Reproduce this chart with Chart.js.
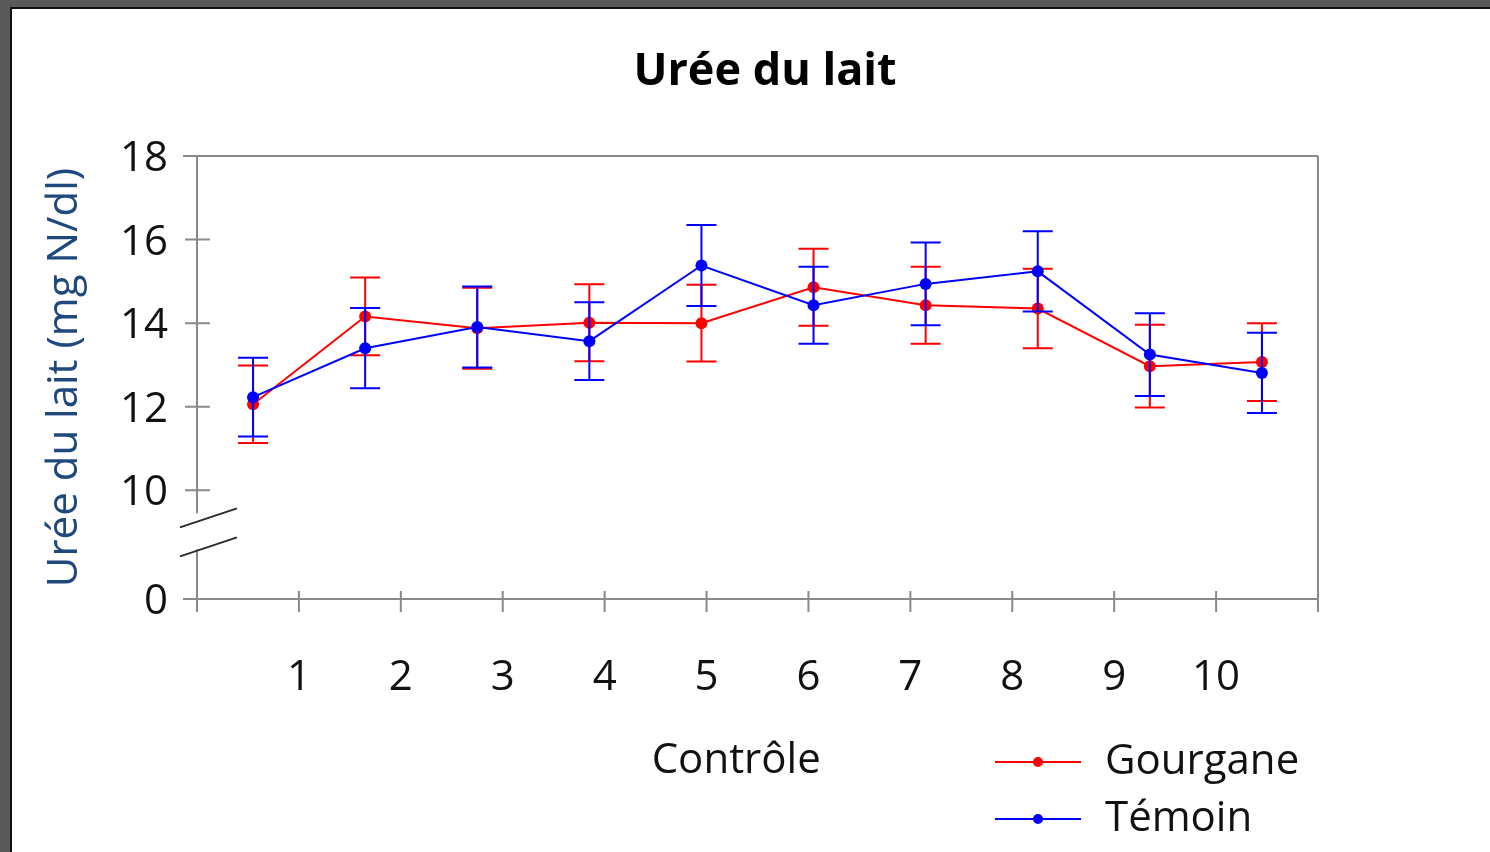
<!DOCTYPE html>
<html lang="fr">
<head>
<meta charset="utf-8">
<title>Urée du lait</title>
<script src="https://cdn.jsdelivr.net/npm/chart.js@4.4.1/dist/chart.umd.min.js"></script>
<style>
  html, body { margin: 0; padding: 0; width: 1490px; height: 852px; overflow: hidden; background: #595959; }
  .frame { position: absolute; left: 10px; top: 7px; right: 0; bottom: 0; background: #fff; border-left: 2px solid #111; border-top: 2px solid #111; }
  #chart { position: absolute; left: 0; top: 0; }
</style>
</head>
<body>
<div class="frame"></div>
<canvas id="chart" width="1490" height="852"></canvas>
<script>
// Contrôle 1..10
const categories = ['1', '2', '3', '4', '5', '6', '7', '8', '9', '10'];

// moyennes et écarts (mg N/dl)
const gourgane = [12.06, 14.16, 13.88, 14.01, 14.00, 14.86, 14.43, 14.35, 12.97, 13.07];
const gourganeErr = [0.93, 0.93, 0.97, 0.92, 0.92, 0.92, 0.92, 0.95, 0.99, 0.93];
const temoin = [12.23, 13.40, 13.91, 13.57, 15.38, 14.43, 14.94, 15.24, 13.25, 12.81];
const temoinErr = [0.94, 0.96, 0.97, 0.93, 0.97, 0.92, 0.99, 0.96, 0.99, 0.96];

// axe Y coupé : "0" est placé juste sous la coupure
const yTickValues = [7.4, 10, 12, 14, 16, 18];
const yTickLabels = ['0', '10', '12', '14', '16', '18'];
// les étiquettes X sont décalées par rapport aux points (comme dans l'original)
const xTickLabels = ['', '1', '2', '3', '4', '5', '6', '7', '8', '9', '10', ''];

const FONT = "'Open Sans', 'Noto Sans', sans-serif";
const AXIS_GREY = '#8a8a8a';

// barres d'erreur, dessinées juste après chaque série
const errorBars = {
  id: 'errorBars',
  afterDatasetDraw(chart, args) {
    const ds = chart.data.datasets[args.index];
    if (!ds.errors) return;
    const ctx = chart.ctx;
    const y = chart.scales.y;
    ctx.save();
    ctx.strokeStyle = ds.borderColor;
    ctx.lineWidth = 2;
    args.meta.data.forEach((pt, i) => {
      const v = ds.data[i];
      const e = ds.errors[i];
      const yTop = y.getPixelForValue(v + e);
      const yBot = y.getPixelForValue(v - e);
      ctx.beginPath();
      ctx.moveTo(pt.x, yTop);
      ctx.lineTo(pt.x, yBot);
      ctx.moveTo(pt.x - 15, yTop);
      ctx.lineTo(pt.x + 15, yTop);
      ctx.moveTo(pt.x - 15, yBot);
      ctx.lineTo(pt.x + 15, yBot);
      ctx.stroke();
    });
    ctx.restore();
  }
};

// cadre, graduations croisées et coupure de l'axe
const axisFrame = {
  id: 'axisFrame',
  beforeDatasetsDraw(chart) {
    const { ctx, chartArea: a, scales } = chart;
    const y10 = scales.y.getPixelForValue(10);
    ctx.save();
    ctx.strokeStyle = AXIS_GREY;
    ctx.lineWidth = 2;
    ctx.beginPath();
    ctx.moveTo(a.left - 14, a.top); ctx.lineTo(a.right, a.top);
    ctx.moveTo(a.right, a.top); ctx.lineTo(a.right, a.bottom + 13);
    ctx.moveTo(a.left - 14, a.bottom); ctx.lineTo(a.right, a.bottom);
    ctx.moveTo(a.left, a.top); ctx.lineTo(a.left, y10 + 23);
    ctx.moveTo(a.left, y10 + 59); ctx.lineTo(a.left, a.bottom + 13);
    yTickValues.slice(1, -1).forEach(v => {
      const py = scales.y.getPixelForValue(v);
      ctx.moveTo(a.left - 12, py); ctx.lineTo(a.left + 13, py);
    });
    for (let t = 1; t <= 10; t++) {
      const px = scales.x2.getPixelForValue(t);
      ctx.moveTo(px, a.bottom - 8); ctx.lineTo(px, a.bottom + 13);
    }
    ctx.stroke();
    ctx.restore();
  },
  afterDraw(chart) {
    const { ctx, chartArea: a, scales } = chart;
    const y10 = scales.y.getPixelForValue(10);
    ctx.save();
    ctx.strokeStyle = '#2a2a2a';
    ctx.lineWidth = 2;
    ctx.beginPath();
    ctx.moveTo(a.left - 17, y10 + 37); ctx.lineTo(a.left + 40, y10 + 18);
    ctx.moveTo(a.left - 17, y10 + 66); ctx.lineTo(a.left + 40, y10 + 47);
    ctx.stroke();

    // titre de l'axe X, un peu à gauche du centre comme dans l'original
    ctx.fillStyle = '#111';
    ctx.font = `42px ${FONT}`;
    ctx.textAlign = 'center';
    ctx.textBaseline = 'middle';
    ctx.fillText('Contrôle', a.left + (a.right - a.left) * 0.481, a.bottom + 162);

    // légende en bas à droite
    const rows = [chart.data.datasets[1], chart.data.datasets[0]];
    rows.forEach((ds, i) => {
      const ly = a.bottom + 163 + i * 57;
      const x0 = a.right - 323, x1 = a.right - 237;
      ctx.strokeStyle = ds.borderColor;
      ctx.lineWidth = 2;
      ctx.beginPath();
      ctx.moveTo(x0, ly); ctx.lineTo(x1, ly);
      ctx.stroke();
      ctx.fillStyle = ds.borderColor;
      ctx.beginPath();
      ctx.arc((x0 + x1) / 2, ly, 5, 0, Math.PI * 2);
      ctx.fill();
      ctx.fillStyle = '#111';
      ctx.textAlign = 'left';
      ctx.fillText(ds.label, a.right - 213, ly);
    });
    ctx.restore();
  }
};

new Chart(document.getElementById('chart'), {
  type: 'line',
  data: {
    labels: categories,
    datasets: [
      {
        label: 'Témoin',
        data: temoin,
        errors: temoinErr,
        borderColor: '#0000ff',
        backgroundColor: '#0000ff',
        borderWidth: 2,
        pointRadius: 6,
        pointBorderWidth: 0,
        tension: 0,
        order: 0
      },
      {
        label: 'Gourgane',
        data: gourgane,
        errors: gourganeErr,
        borderColor: '#ff0000',
        backgroundColor: '#ff0000',
        borderWidth: 2,
        pointRadius: 6,
        pointBorderWidth: 0,
        tension: 0,
        order: 1
      }
    ]
  },
  options: {
    responsive: false,
    animation: false,
    devicePixelRatio: 1,
    layout: { padding: { left: 40, right: 0, top: 0, bottom: 0 } },
    plugins: {
      legend: { display: false },
      tooltip: { enabled: false },
      title: {
        display: true,
        text: 'Urée du lait',
        color: '#000',
        font: { family: FONT, size: 45, weight: 'bold' },
        padding: { top: 45, bottom: 57 }
      }
    },
    scales: {
      x: {
        type: 'category',
        offset: true,
        display: false
      },
      x2: {
        type: 'linear',
        position: 'bottom',
        min: 0,
        max: 11,
        grid: { display: false, drawTicks: false },
        border: { display: false },
        ticks: {
          stepSize: 1,
          autoSkip: false,
          maxRotation: 0,
          padding: 54,
          color: '#111',
          font: { family: FONT, size: 42 },
          callback: (v) => xTickLabels[v] ?? ''
        },
        afterFit: (s) => { s.height = 253; }
      },
      y: {
        type: 'linear',
        position: 'left',
        min: 7.4,
        max: 18,
        grid: { display: false, drawTicks: false },
        border: { display: false },
        afterBuildTicks: (s) => { s.ticks = yTickValues.map(v => ({ value: v })); },
        ticks: {
          autoSkip: false,
          padding: 29,
          labelOffset: 3,
          color: '#111',
          font: { family: FONT, size: 42 },
          callback: (v) => yTickLabels[yTickValues.indexOf(v)] ?? ''
        },
        title: {
          display: true,
          text: 'Urée du lait (mg N/dl)',
          color: '#1f497d',
          font: { family: FONT, size: 42 },
          padding: { top: 0, bottom: 0 }
        },
        afterFit: (s) => { s.width = 157; }
      },
      y2: {
        type: 'linear',
        position: 'right',
        display: true,
        grid: { display: false, drawTicks: false },
        border: { display: false },
        ticks: { display: false },
        afterFit: (s) => { s.width = 172; }
      }
    }
  },
  plugins: [axisFrame, errorBars]
});
</script>
</body>
</html>
